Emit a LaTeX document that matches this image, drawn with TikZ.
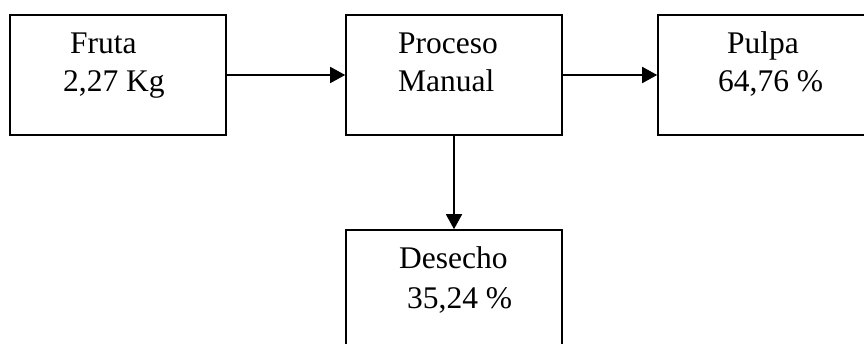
\documentclass[tikz,border=0pt]{standalone}
\usepackage{fontspec}
\setmainfont{Liberation Serif}
\usetikzlibrary{arrows.meta}
\begin{document}
\begin{tikzpicture}[x=1pt,y=-1pt,
  boxnode/.style={draw=black,line width=1.6pt,minimum width=216pt,minimum height=120pt,inner sep=0pt,anchor=center},
  txt/.style={inner sep=0pt,anchor=base west,font=\fontsize{31.5}{36}\selectfont},
  arr/.style={line width=1.6pt,-{Triangle[length=15pt,width=16pt]}}]
\useasboundingbox (0,0) rectangle (864,345);
\begin{scope}
\clip (0,0) rectangle (864,343.5);
\node[boxnode] (fruta) at (118,75) {};
\node[boxnode] (proc) at (454,75) {};
\node[boxnode] (pulpa) at (766,75) {};
\node[boxnode] (desecho) at (454,290) {};
\end{scope}
\node[txt] (t1) at (70,53) {Fruta};
\node[txt] (t2) at (63,92) {2,27 Kg};
\node[txt] (t3) at (398,53) {Proceso};
\node[txt] (t4) at (398,92) {Manual};
\node[txt] (t5) at (727,53) {Pulpa};
\node[txt] (t6) at (718,92) {64,76 \%};
\node[txt] (t7) at (399,268) {Desecho};
\node[txt] (t8) at (407,308) {35,24 \%};
\draw[arr] (fruta.east) -- (proc.west);
\draw[arr] (proc.east) -- (pulpa.west);
\draw[arr] (proc.south) -- (desecho.north);
\end{tikzpicture}
\end{document}
